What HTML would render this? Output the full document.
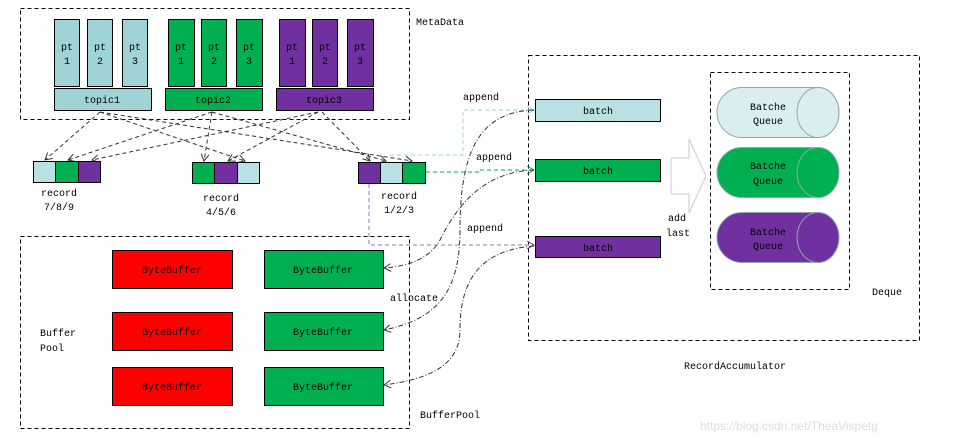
<!DOCTYPE html>
<html><head><meta charset="utf-8"><style>
html,body{margin:0;padding:0;background:#fff}
svg{display:block}
text{font-family:"Liberation Mono","Noto Sans CJK SC",monospace;font-size:10px;fill:#000}
</style></head><body>
<svg width="954" height="441" viewBox="0 0 954 441" xmlns="http://www.w3.org/2000/svg">
<defs>
<marker id="a" markerWidth="8" markerHeight="8" refX="7" refY="4" orient="auto" markerUnits="userSpaceOnUse"><path d="M0,0 L7,4 L0,8" fill="none" stroke="#333" stroke-width="1"/></marker>
<marker id="at" markerWidth="8" markerHeight="8" refX="7" refY="4" orient="auto" markerUnits="userSpaceOnUse"><path d="M0,0 L7,4 L0,8" fill="none" stroke="#9cd3d6" stroke-width="1"/></marker>
<marker id="ag" markerWidth="8" markerHeight="8" refX="7" refY="4" orient="auto" markerUnits="userSpaceOnUse"><path d="M0,0 L7,4 L0,8" fill="none" stroke="#00b050" stroke-width="1"/></marker>
<marker id="ap" markerWidth="8" markerHeight="8" refX="7" refY="4" orient="auto" markerUnits="userSpaceOnUse"><path d="M0,0 L7,4 L0,8" fill="none" stroke="#7030a0" stroke-width="1"/></marker>
</defs>
<g fill="none" stroke="#000" stroke-dasharray="4,3">
<rect x="20.5" y="8.5" width="389" height="111"/>
<rect x="20.5" y="236.5" width="389" height="192"/>
<rect x="528.5" y="55.5" width="391" height="285"/>
<rect x="710.5" y="72.5" width="139" height="217"/>
</g>
<text x="416" y="25">MetaData</text>
<g stroke="#000" stroke-width="1">
<rect x="54.5" y="19.5" width="25" height="67" fill="#a0d3d6"/>
<rect x="87.5" y="19.5" width="25" height="67" fill="#a0d3d6"/>
<rect x="122.5" y="19.5" width="25" height="67" fill="#a0d3d6"/>
<rect x="168.5" y="19.5" width="26" height="67" fill="#00b050"/>
<rect x="201.5" y="19.5" width="25" height="67" fill="#00b050"/>
<rect x="236.5" y="19.5" width="26" height="67" fill="#00b050"/>
<rect x="279.5" y="19.5" width="26" height="67" fill="#7030a0"/>
<rect x="312.5" y="19.5" width="25" height="67" fill="#7030a0"/>
<rect x="347.5" y="19.5" width="26" height="67" fill="#7030a0"/>
<rect x="54.5" y="88.5" width="97" height="22" fill="#a0d3d6"/>
<rect x="165.5" y="88.5" width="97" height="22" fill="#00b050"/>
<rect x="276.5" y="88.5" width="97" height="22" fill="#7030a0"/>
</g>
<g text-anchor="middle">
<text x="67" y="50">pt</text><text x="67" y="64">1</text>
<text x="100" y="50">pt</text><text x="100" y="64">2</text>
<text x="135" y="50">pt</text><text x="135" y="64">3</text>
<text x="181" y="50">pt</text><text x="181" y="64">1</text>
<text x="214" y="50">pt</text><text x="214" y="64">2</text>
<text x="249" y="50">pt</text><text x="249" y="64">3</text>
<text x="292" y="50">pt</text><text x="292" y="64">1</text>
<text x="325" y="50">pt</text><text x="325" y="64">2</text>
<text x="360" y="50">pt</text><text x="360" y="64">3</text>
<text x="102" y="103">topic1</text><text x="213" y="103">topic2</text><text x="324" y="103">topic3</text>
</g>
<!-- topic to record arrows -->
<g fill="none" stroke="#333" stroke-dasharray="4,3" marker-end="url(#a)">
<path d="M100,112 L45,160"/>
<path d="M100,112 L245,161"/>
<path d="M100,112 L412,161"/>
<path d="M212,112 L68,160"/>
<path d="M212,112 L204,161"/>
<path d="M212,112 L386,161"/>
<path d="M318,112 L92,160"/>
<path d="M318,112 L228,161"/>
<path d="M322,112 L370,161"/>
</g>
<g stroke="#000">
<rect x="33.5" y="161.5" width="22" height="21" fill="#b9e0e2"/>
<rect x="55.5" y="161.5" width="23" height="21" fill="#00b050"/>
<rect x="78.5" y="161.5" width="22" height="21" fill="#7030a0"/>
<rect x="192.5" y="162.5" width="22" height="21" fill="#00b050"/>
<rect x="214.5" y="162.5" width="23" height="21" fill="#7030a0"/>
<rect x="237.5" y="162.5" width="22" height="21" fill="#b9e0e2"/>
<rect x="358.5" y="162.5" width="22" height="21" fill="#7030a0"/>
<rect x="380.5" y="162.5" width="22" height="21" fill="#b9e0e2"/>
<rect x="402.5" y="162.5" width="23" height="21" fill="#00b050"/>
</g>
<g text-anchor="middle">
<text x="59" y="196">record</text><text x="59" y="210">7/8/9</text>
<text x="221" y="201">record</text><text x="221" y="215">4/5/6</text>
<text x="399" y="199">record</text><text x="399" y="213">1/2/3</text>
</g>
<!-- record to batch -->
<path d="M390,155 L463,155 L463,110 L534,110" fill="none" stroke="#9cd3d6" stroke-dasharray="4,3" marker-end="url(#at)"/>
<path d="M426,172 L480,172 L480,170 L534,170" fill="none" stroke="#00b050" stroke-dasharray="4,3" marker-end="url(#ag)"/>
<path d="M369,184 L369,245 L534,245" fill="none" stroke="#9b6fc8" stroke-dasharray="4,3" marker-end="url(#ap)"/>
<text x="463" y="100">append</text>
<text x="476" y="160">append</text>
<text x="467" y="231">append</text>
<text x="390" y="301">allocate</text>
<!-- batches -->
<g stroke="#000">
<rect x="535.5" y="99.5" width="125" height="22" fill="#b9e0e2"/>
<rect x="535.5" y="159.5" width="125" height="22" fill="#00b050"/>
<rect x="535.5" y="236.5" width="125" height="21" fill="#7030a0"/>
</g>
<g text-anchor="middle"><text x="598" y="114">batch</text><text x="598" y="174">batch</text><text x="598" y="251">batch</text></g>
<!-- curves -->
<g fill="none" stroke="#333" stroke-dasharray="5,2,1,2" marker-end="url(#a)">
<path d="M534,110 C480,112 460,150 460,230 C460,300 430,320 384,330"/>
<path d="M534,170 C480,172 455,210 440,240 C430,258 410,266 384,268"/>
<path d="M534,246 C480,250 460,280 460,330 C460,370 420,380 384,385"/>
</g>
<!-- byte buffers -->
<g stroke="#000">
<rect x="112.5" y="250.5" width="120" height="38" fill="#ff0000"/>
<rect x="112.5" y="312.5" width="120" height="38" fill="#ff0000"/>
<rect x="112.5" y="367.5" width="120" height="38" fill="#ff0000"/>
<rect x="264.5" y="250.5" width="119" height="38" fill="#00b050"/>
<rect x="264.5" y="312.5" width="119" height="38" fill="#00b050"/>
<rect x="264.5" y="367.5" width="119" height="38" fill="#00b050"/>
</g>
<g text-anchor="middle">
<text x="172" y="273">ByteBuffer</text><text x="172" y="335">ByteBuffer</text><text x="172" y="390">ByteBuffer</text>
<text x="323" y="273">ByteBuffer</text><text x="323" y="335">ByteBuffer</text><text x="323" y="390">ByteBuffer</text>
</g>
<text x="40" y="336">Buffer</text><text x="40" y="351">Pool</text>
<text x="420" y="418">BufferPool</text>
<!-- arrow -->
<path d="M671,158 L689,158 L689,139 L706,176 L689,213 L689,194 L671,194 Z" fill="#fff" stroke="#ccc"/>
<text x="668" y="221">add</text><text x="666" y="236">last</text>
<!-- cylinders -->
<g stroke="#8fa8ab">
<path d="M742,87.5 L818,87.5 A21,25 0 0 1 818,137.5 L742,137.5 A25,25 0 0 1 742,87.5 Z" fill="#daeef0"/>
<ellipse cx="818" cy="112.5" rx="21" ry="25" fill="#daeef0"/>
<path d="M742,147.5 L818,147.5 A21,25 0 0 1 818,197.5 L742,197.5 A25,25 0 0 1 742,147.5 Z" fill="#00b050"/>
<ellipse cx="818" cy="172.5" rx="21" ry="25" fill="#00b050"/>
<path d="M742,212.5 L818,212.5 A21,25 0 0 1 818,262.5 L742,262.5 A25,25 0 0 1 742,212.5 Z" fill="#7030a0"/>
<ellipse cx="818" cy="237.5" rx="21" ry="25" fill="#7030a0"/>
</g>
<g text-anchor="middle">
<text x="768" y="110">Batche</text><text x="768" y="124">Queue</text>
<text x="768" y="169">Batche</text><text x="768" y="184">Queue</text>
<text x="768" y="235">Batche</text><text x="768" y="249">Queue</text>
</g>
<text x="872" y="295">Deque</text>
<text x="684" y="369">RecordAccumulator</text>
<text x="700" y="430" style="fill:#ddd;font-family:'Liberation Sans',sans-serif;font-size:12px">https://blog.csdn.net/TheaVispetg</text>
</svg>
</body></html>
